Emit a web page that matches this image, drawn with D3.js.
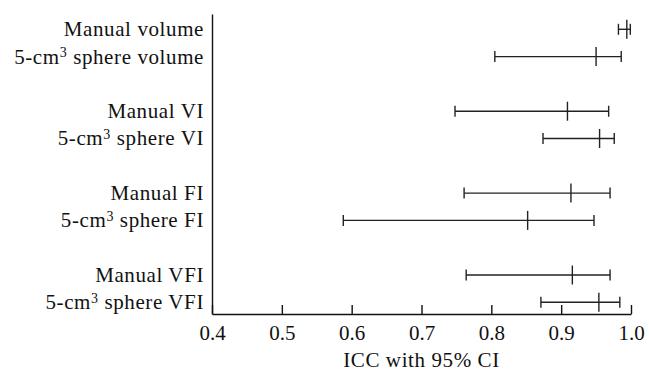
<!DOCTYPE html>
<html>
<head>
<meta charset="utf-8">
<script src="https://cdn.jsdelivr.net/npm/d3@7"></script>
<style>
  body { margin: 0; background: #fff; }
  svg { display: block; }
  svg text { font-family: 'Liberation Serif', 'Times New Roman', serif; fill: #111; }
</style>
</head>
<body>
<script>
// row labels (prefix, superscript, suffix), two rows per group
var labelPrefix = ["Manual volume", "5-cm", "Manual VI", "5-cm", "Manual FI", "5-cm", "Manual VFI", "5-cm"];
var labelSup    = ["", "3", "", "3", "", "3", "", "3"];
var labelSuffix = ["", " sphere volume", "", " sphere VI", "", " sphere FI", "", " sphere VFI"];

// ICC estimates and 95% CI
var iccValue = [0.994, 0.950, 0.909, 0.955, 0.914, 0.852, 0.916, 0.954];
var ciLower  = [0.982, 0.805, 0.748, 0.874, 0.761, 0.588, 0.764, 0.871];
var ciUpper  = [0.999, 0.986, 0.968, 0.976, 0.970, 0.947, 0.970, 0.984];

var xTicks = [0.4, 0.5, 0.6, 0.7, 0.8, 0.9, 1.0];

var width = 649, height = 372;
var margin = {left: 212, right: 18, top: 14, bottom: 58};

var svg = d3.select("body").append("svg")
    .attr("width", width)
    .attr("height", height);

var x = d3.scaleLinear()
    .domain([0.4, 1.0])
    .range([margin.left, width - margin.right]);

// 4 groups of 2 rows, with an empty slot between groups
var y = d3.scaleLinear()
    .domain([0, 10])
    .range([29.3, 302.3]);

function slot(i) { return Math.floor(i / 2) * 3 + (i % 2); }

var rows = iccValue.map(function(v, i) {
  return {v: v, lo: ciLower[i], hi: ciUpper[i], y: y(slot(i)),
          pre: labelPrefix[i], sup: labelSup[i], suf: labelSuffix[i]};
});

// axes
var xAxis = svg.append("g")
    .attr("transform", "translate(0," + (height - margin.bottom) + ")")
    .call(d3.axisBottom(x)
      .tickValues(xTicks)
      .tickFormat(d3.format(".1f"))
      .tickSizeInner(-9)
      .tickSizeOuter(0)
      .tickPadding(11));
xAxis.attr("font-family", null);
xAxis.select(".domain").attr("stroke", "#111").attr("stroke-width", 1.4);
xAxis.selectAll(".tick line").attr("stroke", "#111").attr("stroke-width", 1.4);
xAxis.selectAll(".tick text")
    .attr("font-size", 21)
    .attr("fill", "#111");

var yAxis = svg.append("g")
    .attr("transform", "translate(" + margin.left + ",0)")
    .call(d3.axisLeft(d3.scaleLinear().range([height - margin.bottom, margin.top]))
      .tickValues([])
      .tickSizeOuter(0));
yAxis.select(".domain").attr("stroke", "#111").attr("stroke-width", 1.4);

svg.append("text")
    .attr("x", (x(0.4) + x(1.0)) / 2)
    .attr("y", 367)
    .attr("text-anchor", "middle")
    .style("font-size", "21px")
    .style("letter-spacing", "0.6px")
    .text("ICC with 95% CI");

// row labels
var lab = svg.selectAll(".rowlabel")
    .data(rows)
    .enter().append("text")
    .attr("class", "rowlabel")
    .attr("x", 204)
    .attr("y", function(d) { return d.y; })
    .attr("dy", "0.33em")
    .attr("text-anchor", "end")
    .style("font-size", "21px")
    .style("letter-spacing", "0.6px");
lab.append("tspan").text(function(d) { return d.pre; });
lab.filter(function(d) { return d.sup; })
  .append("tspan")
    .attr("dy", "-0.45em")
    .style("font-size", "14px")
    .text(function(d) { return d.sup; });
lab.filter(function(d) { return d.suf; })
  .append("tspan")
    .attr("dy", "0.3em")
    .text(function(d) { return d.suf; });

// error bars
var bar = svg.selectAll(".bar")
    .data(rows)
    .enter().append("g")
    .attr("class", "bar")
    .attr("stroke", "#222")
    .attr("stroke-width", 1.4);

bar.append("line")
    .attr("x1", function(d) { return x(d.lo); })
    .attr("x2", function(d) { return x(d.hi); })
    .attr("y1", function(d) { return d.y; })
    .attr("y2", function(d) { return d.y; });

bar.append("line")
    .attr("x1", function(d) { return x(d.lo); })
    .attr("x2", function(d) { return x(d.lo); })
    .attr("y1", function(d) { return d.y - 5.5; })
    .attr("y2", function(d) { return d.y + 5.5; });

bar.append("line")
    .attr("x1", function(d) { return x(d.hi); })
    .attr("x2", function(d) { return x(d.hi); })
    .attr("y1", function(d) { return d.y - 5.5; })
    .attr("y2", function(d) { return d.y + 5.5; });

bar.append("line")
    .attr("x1", function(d) { return x(d.v); })
    .attr("x2", function(d) { return x(d.v); })
    .attr("y1", function(d) { return d.y - 9.5; })
    .attr("y2", function(d) { return d.y + 9.5; });
</script>
</body>
</html>
